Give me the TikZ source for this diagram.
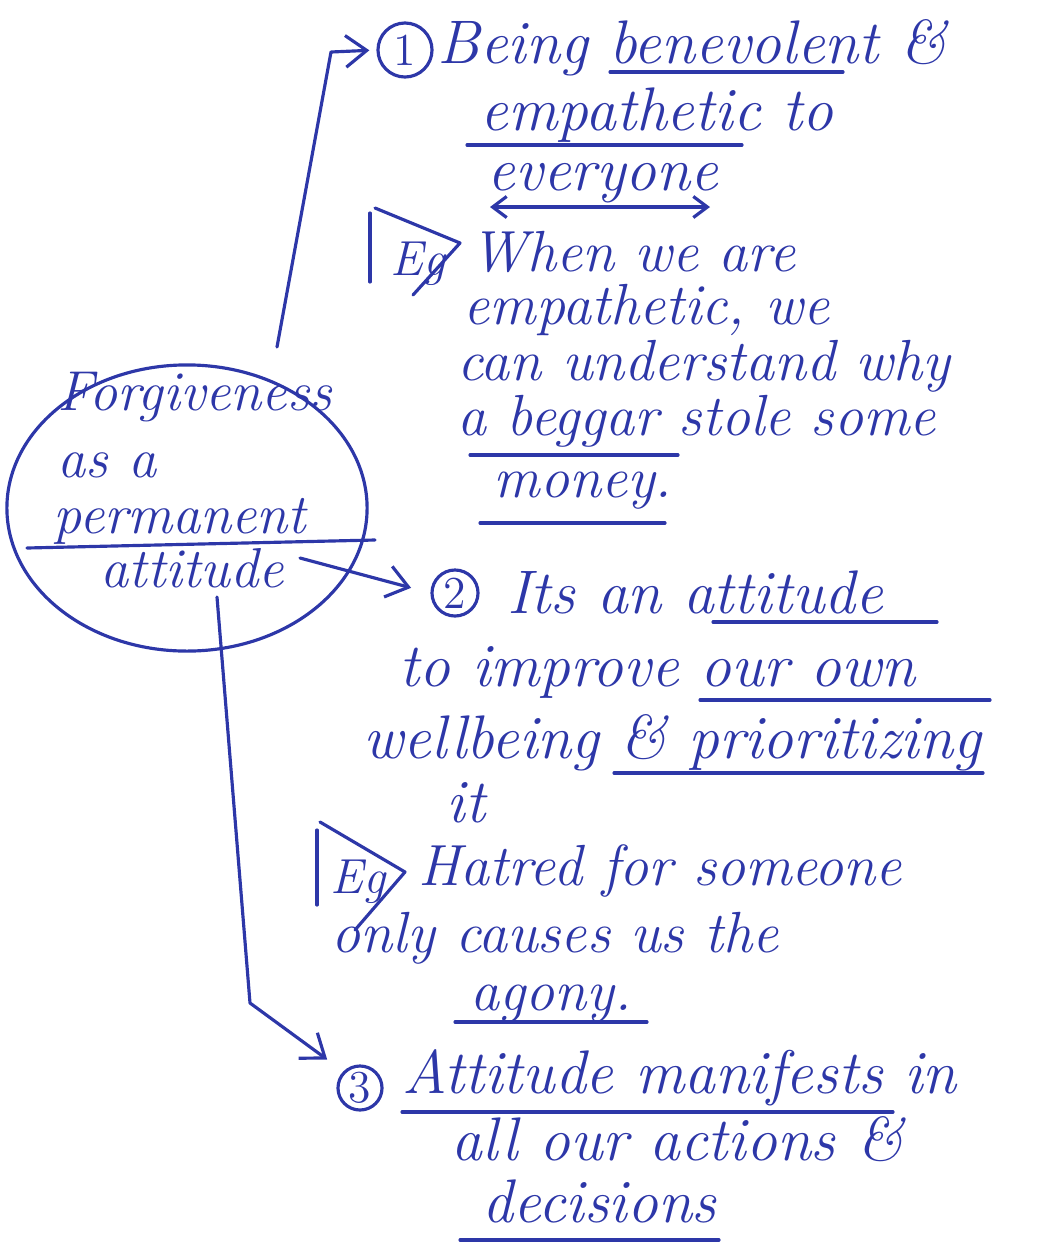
\documentclass[tikz,border=0pt]{standalone}
\usepackage{fontspec}
\usepackage{tikz}
\usetikzlibrary{arrows.meta, shapes.geometric}
\definecolor{ink}{RGB}{45,55,168}

\begin{document}
\begin{tikzpicture}[>={Straight Barb[length=6pt,width=9pt]}, x=0.01cm, y=-0.01cm,
  pen/.style={ink, line width=0.9pt, line cap=round, line join=round},
  hand/.style={ink, font=\fontsize{17.5}{19}\selectfont\itshape, inner sep=0pt, anchor=base west},
  exhand/.style={hand, font=\fontsize{16.5}{18}\selectfont\itshape\addfontfeature{LetterSpace=3}},
  inhand/.style={hand, font=\fontsize{16}{18}\selectfont\itshape},
  egtext/.style={hand, font=\fontsize{14}{16}\selectfont\itshape},
  num/.style={pen, draw, circle, inner sep=0pt, font=\fontsize{13}{14}\selectfont},
  link/.style={pen, ->}]

\useasboundingbox (0,0) rectangle (1054,1245);

%\draw[xstep=1cm,ystep=1cm,color=gray!30] (0,0) grid (1054,1245);

% central idea
\node[pen, draw, ellipse, minimum width=3.6cm, minimum height=2.86cm] (idea) at (187,508) {};
\node[inhand] (t1) at (57,410) {Forgiveness};
\node[inhand] (t2) at (57,477) {as a};
\node[inhand] (t3) at (53,533) {permanent};
\node[inhand] (t4) at (100,587) {attitude};
\draw[pen] (27,548) -- (375,540);

% point 1
\node[num, minimum size=0.54cm] (n1) at (405,50) {1};
\node[hand] (p1a) at (437,63) {Being benevolent \&};
\node[hand] (p1b) at (480,130) {empathetic to};
\node[hand] (p1c) at (487,190) {everyone};
\draw[pen] (610,72) -- (843,72);
\draw[pen] (467,145) -- (742,145);
\draw[pen, {Straight Barb[length=4pt,width=6pt]}-{Straight Barb[length=4pt,width=6pt]}] (490,207) -- (710,207);

% example 1
\draw[pen] (370,282) -- (370,213);
\draw[pen] (375,208) -- (460,243) -- (413,295);
\node[egtext] (eg1) at (390,275) {Eg};
\node[exhand] (e1a) at (470,271) {When we are};
\node[exhand] (e1b) at (463,324) {empathetic, we};
\node[exhand] (e1c) at (457,380) {can understand why};
\node[exhand] (e1d) at (457,435) {a beggar stole some};
\node[exhand] (e1e) at (493,497) {money.};
\draw[pen] (470,455) -- (678,455);
\draw[pen] (480,523) -- (665,523);

% point 2
\node[num, minimum size=0.46cm] (n2) at (455,593) {2};
\node[hand] (p2a) at (507,613) {Its an attitude};
\node[hand] (p2b) at (399,686) {to improve our own};
\node[hand] (p2c) at (363,758) {wellbeing \& prioritizing};
\node[hand] (p2d) at (446,822) {it};
\draw[pen] (713,622) -- (937,622);
\draw[pen] (700,700) -- (990,700);
\draw[pen] (614,773) -- (983,773);

% example 2
\draw[pen] (317,905) -- (317,830);
\draw[pen] (320,822) -- (405,872) -- (355,930);
\node[egtext] (eg2) at (330,893) {Eg};
\node[exhand] (e2a) at (418,885) {Hatred for someone};
\node[exhand] (e2b) at (331,952) {only causes us the};
\node[exhand] (e2c) at (470,1010) {agony.};
\draw[pen] (455,1022) -- (647,1022);

% point 3
\node[num, minimum size=0.44cm] (n3) at (360,1088) {3};
\node[hand] (p3a) at (402,1093) {Attitude manifests in};
\node[hand] (p3b) at (451,1160) {all our actions \&};
\node[hand] (p3c) at (482,1222) {decisions};
\draw[pen] (402,1112) -- (893,1112);
\draw[pen] (460,1240) -- (719,1240);

% arrows out of the idea
\coordinate (a1) at (277,347);
\coordinate (b1) at (331,52);
\draw[link, shorten >=2pt] (a1) -- (b1) -- (n1.west);

\coordinate (a2) at (300,558);
\draw[link, shorten >=0.2cm] (a2) -- (n2.west);

\coordinate (a3) at (217,597);
\coordinate (b3) at (250,1003);
\draw[link, shorten >=0.2cm] (a3) -- (b3) -- (n3.north west);

\end{tikzpicture}
\end{document}
